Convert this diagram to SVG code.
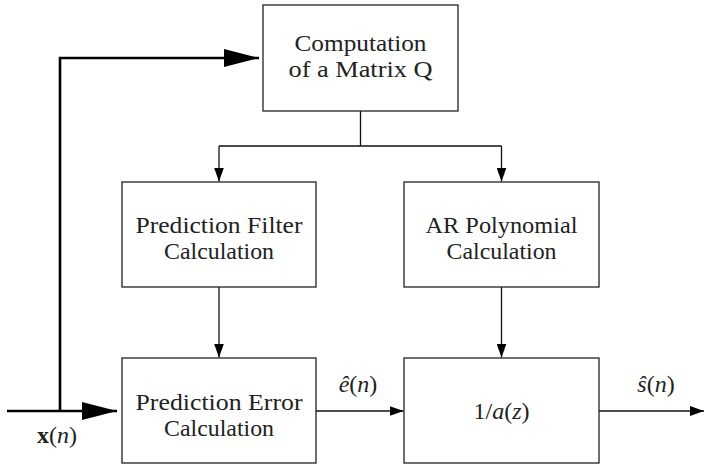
<svg xmlns="http://www.w3.org/2000/svg" width="704" height="465" viewBox="0 0 704 465">
<defs>
<marker id="thin" markerWidth="14" markerHeight="10" refX="14" refY="5" orient="auto" markerUnits="userSpaceOnUse">
<path d="M0,0 L14,5 L0,10 Z" fill="#000"/>
</marker>
<marker id="thick" markerWidth="35" markerHeight="18" refX="35" refY="9" orient="auto" markerUnits="userSpaceOnUse">
<path d="M0,0 L35,9 L0,18 Z" fill="#000"/>
</marker>
<style>
.box{fill:#fff;stroke:#222;stroke-width:1.3}
.t{font-family:'Liberation Serif','DejaVu Serif',serif;font-size:24px;fill:#222;text-anchor:middle}
.i{font-style:italic}
.b{font-weight:bold}
.c{fill:none;stroke:#111;stroke-width:1.3}
.k{fill:none;stroke:#000;stroke-width:2.6}
</style>
</defs>
<g id="connectors">
<path class="k" d="M7,411 H117" marker-end="url(#thick)"/>
<path class="k" d="M60,411 V58 H259" marker-end="url(#thick)"/>
<path class="c" d="M360.5,111 V146"/>
<path class="c" d="M219,146 H501.5"/>
<path class="c" d="M219,146 V181.5" marker-end="url(#thin)"/>
<path class="c" d="M501.5,146 V181.5" marker-end="url(#thin)"/>
<path class="c" d="M219,287 V357.5" marker-end="url(#thin)"/>
<path class="c" d="M501.5,287 V357.5" marker-end="url(#thin)"/>
<path class="c" d="M316,411 H403.5" marker-end="url(#thin)"/>
<path class="c" d="M599,411 H704" marker-end="url(#thin)"/>
</g>
<g id="lbl-x"><text class="t" font-family="Liberation Serif, serif" x="57" y="443"><tspan class="b">x</tspan>(<tspan class="i">n</tspan>)</text></g>
<g id="lbl-e"><text class="t" font-family="Liberation Serif, serif" x="358" y="392"><tspan class="i">ê</tspan>(<tspan class="i">n</tspan>)</text></g>
<g id="lbl-s"><text class="t" font-family="Liberation Serif, serif" x="656" y="392"><tspan class="i">ŝ</tspan>(<tspan class="i">n</tspan>)</text></g>
<g id="n-matrix">
<rect class="box" x="263" y="5" width="195" height="106"/>
<text class="t" font-family="Liberation Serif, serif" x="360.5" y="51" textLength="132" lengthAdjust="spacingAndGlyphs">Computation</text>
<text class="t" font-family="Liberation Serif, serif" x="360.5" y="77" textLength="144" lengthAdjust="spacingAndGlyphs">of a Matrix Q</text>
</g>
<g id="n-filter">
<rect class="box" x="122" y="182" width="194" height="105"/>
<text class="t" font-family="Liberation Serif, serif" x="219" y="233" textLength="167" lengthAdjust="spacingAndGlyphs">Prediction Filter</text>
<text class="t" font-family="Liberation Serif, serif" x="219" y="259" textLength="110" lengthAdjust="spacingAndGlyphs">Calculation</text>
</g>
<g id="n-ar">
<rect class="box" x="404" y="182" width="195" height="105"/>
<text class="t" font-family="Liberation Serif, serif" x="501.5" y="233" textLength="152" lengthAdjust="spacingAndGlyphs">AR Polynomial</text>
<text class="t" font-family="Liberation Serif, serif" x="501.5" y="259" textLength="110" lengthAdjust="spacingAndGlyphs">Calculation</text>
</g>
<g id="n-error">
<rect class="box" x="122" y="358" width="194" height="105"/>
<text class="t" font-family="Liberation Serif, serif" x="219" y="410" textLength="167" lengthAdjust="spacingAndGlyphs">Prediction Error</text>
<text class="t" font-family="Liberation Serif, serif" x="219" y="436" textLength="110" lengthAdjust="spacingAndGlyphs">Calculation</text>
</g>
<g id="n-inv">
<rect class="box" x="404" y="358" width="195" height="105"/>
<text class="t" font-family="Liberation Serif, serif" x="501.5" y="419">1/<tspan class="i">a</tspan>(<tspan class="i">z</tspan>)</text>
</g>
</svg>
